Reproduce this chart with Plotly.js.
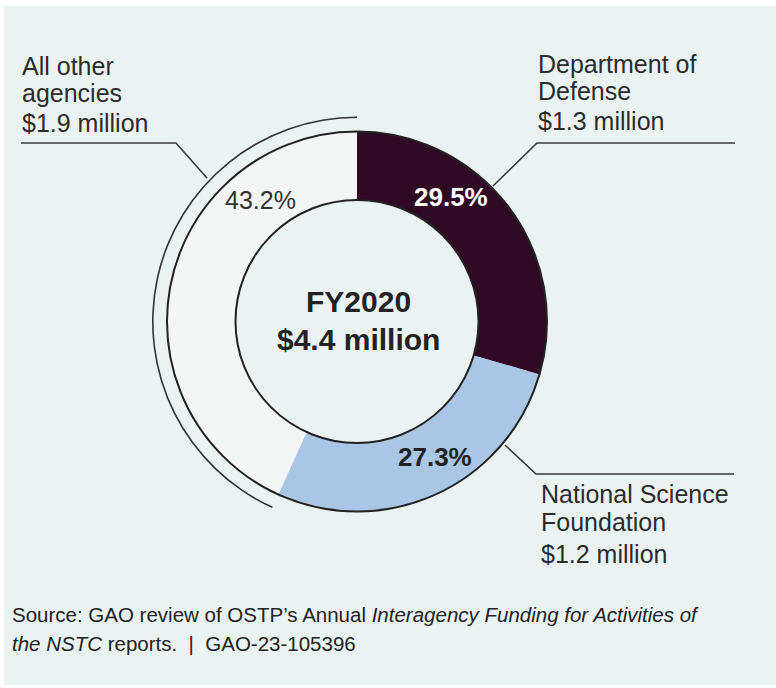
<!DOCTYPE html>
<html>
<head>
<meta charset="utf-8">
<script src="https://cdn.plot.ly/plotly-3.0.1.min.js"></script>
<style>html,body{margin:0;padding:0;background:#fff;}#chart{width:776px;height:688px;}</style>
</head>
<body>
<div id="chart"></div>
<script>
// ---- data ----
const agencies = ['Department of Defense', 'National Science Foundation', 'All other agencies'];
const shares = [29.5, 27.3, 43.2];
const amounts = ['$1.3 million', '$1.2 million', '$1.9 million'];
const nameLines = [['Department of', 'Defense'], ['National Science', 'Foundation'], ['All other', 'agencies']];
const fiscalYear = 'FY2020';
const totalAmount = '$4.4 million';
const sourceLines = [
  'Source: GAO review of OSTP\u2019s Annual <i>Interagency Funding for Activities of</i>',
  '<i>the NSTC</i> reports.  |  GAO-23-105396'
];
const sliceColors = ['#300a24', '#a9c6e4', '#f4f5f5'];
const arcColors = ['rgba(0,0,0,0)', 'rgba(0,0,0,0)', '#333333'];

// ---- geometry helpers (pixels -> paper) ----
const W = 776, H = 688;
const X = p => p / W;
const Y = p => 1 - p / H;
const cx = 357, cy = 321.5, rOut = 190, rIn = 121.5, rArc = 205;
const dom = r => ({x: [X(cx - r), X(cx + r)], y: [Y(cy + r), Y(cy - r)]});

const traces = [
  {
    type: 'pie', labels: agencies, values: shares, sort: false,
    direction: 'clockwise', rotation: 0, hole: rIn / rOut,
    domain: dom(rOut), marker: {colors: sliceColors, line: {width: 0}},
    textinfo: 'none', hoverinfo: 'skip', showlegend: false
  },
  {
    type: 'pie', labels: agencies, values: shares, sort: false,
    direction: 'clockwise', rotation: 0, hole: (rArc - 1.6) / rArc,
    domain: dom(rArc), marker: {colors: arcColors, line: {width: 0}},
    textinfo: 'none', hoverinfo: 'skip', showlegend: false
  }
];

const lineStyle = {color: '#3a3a3a', width: 1.6};
const pathOf = pts => pts.map((p, i) => (i ? 'L' : 'M') + X(p[0]) + ',' + Y(p[1])).join(' ');
const shapes = [
  {type: 'rect', xref: 'paper', yref: 'paper', x0: X(4), x1: X(776), y0: Y(685), y1: Y(6),
   fillcolor: '#ebf3f2', line: {width: 0}, layer: 'below'},
  {type: 'circle', xref: 'paper', yref: 'paper', x0: X(cx - rOut), x1: X(cx + rOut), y0: Y(cy + rOut), y1: Y(cy - rOut),
   line: {color: '#222', width: 2}, layer: 'above'},
  {type: 'circle', xref: 'paper', yref: 'paper', x0: X(cx - rIn), x1: X(cx + rIn), y0: Y(cy + rIn), y1: Y(cy - rIn),
   line: {color: '#222', width: 2}, layer: 'above'},
  {type: 'path', xref: 'paper', yref: 'paper', path: pathOf([[21, 143], [176, 143], [207, 178]]), line: lineStyle},
  {type: 'path', xref: 'paper', yref: 'paper', path: pathOf([[735, 143], [537, 143], [493, 186]]), line: lineStyle},
  {type: 'path', xref: 'paper', yref: 'paper', path: pathOf([[734, 474], [536, 474], [505, 445]]), line: lineStyle}
];

const FAM = 'Liberation Sans, Arial, sans-serif';
function ann(text, x, baseline, size, opts) {
  opts = opts || {};
  return {
    text: text, xref: 'paper', yref: 'paper', showarrow: false,
    x: X(x), y: Y(baseline + 0.212 * size + 1),
    xanchor: opts.xanchor || 'left', yanchor: 'bottom',
    font: {family: opts.family || FAM, size: size, color: opts.color || '#2b2b2b', weight: opts.weight || 400}
  };
}

const annotations = [
  // Department of Defense
  ann(nameLines[0][0], 536, 74, 25), ann(nameLines[0][1], 536, 101, 25), ann(amounts[0], 536, 131, 25),
  // National Science Foundation
  ann(nameLines[1][0], 539, 504, 25), ann(nameLines[1][1], 539, 532, 25), ann(amounts[1], 539, 564, 25),
  // All other agencies
  ann(nameLines[2][0], 20, 76, 25), ann(nameLines[2][1], 20, 103, 25), ann(amounts[2], 20, 133, 25),
  // percentages
  ann(shares[0].toFixed(1) + '%', 451, 207, 26, {xanchor: 'center', color: '#ffffff', weight: 700}),
  ann(shares[1].toFixed(1) + '%', 434.5, 467, 26, {xanchor: 'center', color: '#222222', weight: 700}),
  ann(shares[2].toFixed(1) + '%', 260, 210, 25, {xanchor: 'center', color: '#333333'}),
  // centre
  ann(fiscalYear, 358, 313, 30, {xanchor: 'center', color: '#222222', weight: 700}),
  ann(totalAmount, 358, 351, 30, {xanchor: 'center', color: '#222222', weight: 700}),
  // source
  ann(sourceLines[0], 10, 623, 20.5, {color: '#222222'}),
  ann(sourceLines[1], 10, 652, 20.5, {color: '#222222'})
];

const layout = {
  width: W, height: H, margin: {l: 0, r: 0, t: 0, b: 0},
  paper_bgcolor: '#ffffff', plot_bgcolor: 'rgba(0,0,0,0)',
  showlegend: false, shapes: shapes, annotations: annotations,
  font: {family: FAM}
};

Plotly.newPlot('chart', traces, layout, {displayModeBar: false, staticPlot: true});
</script>
</body>
</html>
